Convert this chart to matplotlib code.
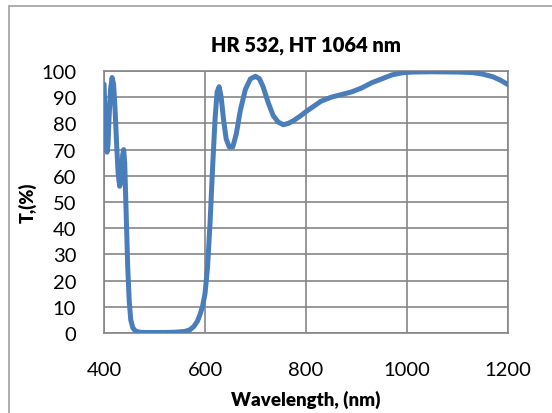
import numpy as np
import matplotlib.pyplot as plt
from matplotlib.patches import Rectangle

plt.rcParams['font.family'] = ['Lato', 'DejaVu Sans']

# transmission curve
wavelength = [400, 402, 404, 406, 408, 410, 413, 416, 419, 422, 425, 428, 431, 434, 437, 439,
              441, 444, 447, 450, 453, 457, 462, 470, 480, 500, 520, 540, 560, 570, 578, 585,
              590, 595, 600, 605, 610, 615, 620, 624, 628, 632, 637, 642, 648, 655, 662, 670,
              680, 690, 700, 708, 715, 725, 735, 745, 755, 765, 775, 790, 800, 815, 830, 850,
              870, 890, 910, 930, 950, 970, 990, 1010, 1050, 1100, 1130, 1150, 1170, 1185, 1200]
transmission = [95, 85, 73, 69, 72, 82, 93, 97.5, 95, 85, 72, 61, 56, 58, 68, 70,
                65, 45, 25, 12, 5, 2, 0.8, 0.3, 0.2, 0.2, 0.2, 0.3, 0.6, 1.2, 2.5, 4.5,
                7, 10, 15, 25, 42, 63, 82, 92, 94, 90, 81, 74, 71, 71, 76, 85,
                93, 97, 98, 97, 94, 88, 83, 80.5, 79.5, 80, 81, 83, 84.5, 86.5, 88.5, 90,
                91, 92, 93.5, 95.5, 97, 98.5, 99.3, 99.6, 99.7, 99.6, 99.4, 98.8, 97.8, 96.5, 94.8]
x_ticks = [400, 600, 800, 1000, 1200]
y_ticks = list(range(0, 101, 10))

fig = plt.figure(figsize=(5.52, 4.14), dpi=100)
ax = fig.add_axes([104/552, 1-334/414, 404/552, 262/414])

grid_col = '#868686'
ax.plot(wavelength, transmission, color='#4a7ebb', lw=3.6, solid_capstyle='round', zorder=3)
ax.set_xlim(400, 1200)
ax.set_ylim(0, 100)
ax.set_xticks(x_ticks)
ax.set_yticks(y_ticks)
ax.grid(True, color=grid_col, lw=1.2)
for s in ax.spines.values():
    s.set_color(grid_col)
    s.set_linewidth(1.2)
ax.tick_params(length=0, labelsize=14.5, colors='black')
ax.tick_params(axis='x', pad=20)
ax.tick_params(axis='y', pad=20)

ax.set_title('HR 532, HT 1064 nm', fontsize=14.5, fontweight='heavy', pad=15)
ax.set_xlabel('Wavelength, (nm)', fontsize=13.5, fontweight='heavy', labelpad=9)
ax.set_ylabel('T,(%)', fontsize=13, fontweight='heavy', labelpad=3)

# chart area border
fig.patches.append(Rectangle((9/552, -0.1), 1.2, 1-7/414+0.1, transform=fig.transFigure,
                             fill=False, edgecolor='#a0a0a0', lw=1.2))

fig.savefig('out.png', dpi=100)
